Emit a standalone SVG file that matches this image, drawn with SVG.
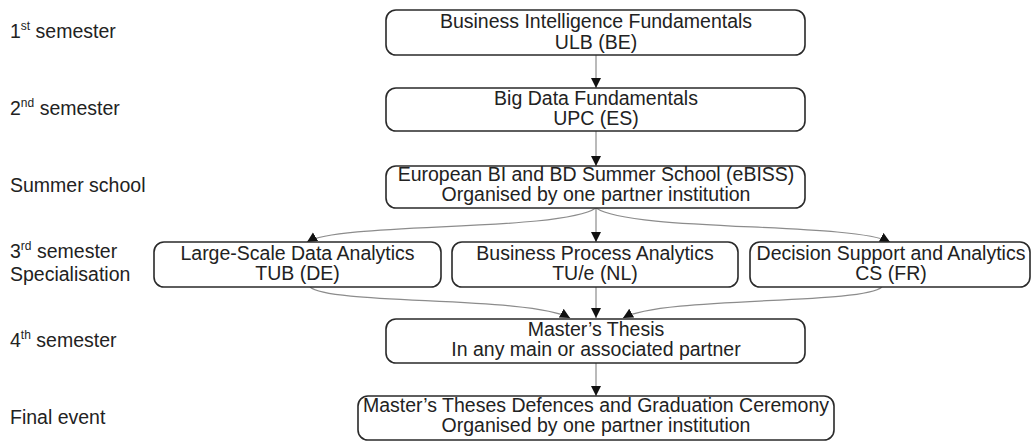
<svg xmlns="http://www.w3.org/2000/svg" width="1032" height="442" viewBox="0 0 1032 442">
<style>
text{font-family:"Liberation Sans",Arial,sans-serif;font-size:19.5px;fill:#222}
.box{fill:#fff;stroke:#2a2a2a;stroke-width:1.6}
.mid{text-anchor:middle}
.conn{fill:none;stroke:#8c8c8c;stroke-width:1.2}
.sup{font-size:12px}
</style>
<defs>
<marker id="ah" markerUnits="userSpaceOnUse" markerWidth="11" markerHeight="11" refX="10" refY="5" orient="auto">
<path d="M0,0 L10,5 L0,10 z" fill="#111"/>
</marker>
</defs>
<g id="labels">
<text x="10" y="38">1<tspan class="sup" dy="-8">st</tspan><tspan dy="8"> semester</tspan></text>
<text x="10" y="115">2<tspan class="sup" dy="-8">nd</tspan><tspan dy="8"> semester</tspan></text>
<text x="10" y="192">Summer school</text>
<text x="10" y="258">3<tspan class="sup" dy="-8">rd</tspan><tspan dy="8"> semester</tspan></text>
<text x="10" y="281">Specialisation</text>
<text x="10" y="347">4<tspan class="sup" dy="-8">th</tspan><tspan dy="8"> semester</tspan></text>
<text x="10" y="424">Final event</text>
</g>
<g id="connectors">
<path class="conn" d="M596,55 L596,88" marker-end="url(#ah)"/>
<path class="conn" d="M596,131 L596,166" marker-end="url(#ah)"/>
<path class="conn" d="M596,208 C560,232 340,222 307,242" marker-end="url(#ah)"/>
<path class="conn" d="M596,208 L596,242" marker-end="url(#ah)"/>
<path class="conn" d="M596,208 C632,232 852,222 890,242" marker-end="url(#ah)"/>
<path class="conn" d="M310,287 C330,305 530,296 570,318" marker-end="url(#ah)"/>
<path class="conn" d="M596,287 L596,318" marker-end="url(#ah)"/>
<path class="conn" d="M882,287 C862,305 662,296 623,318" marker-end="url(#ah)"/>
<path class="conn" d="M596,363 L596,396" marker-end="url(#ah)"/>
</g>
<g id="n1">
<rect class="box" x="386" y="10" width="419" height="45" rx="10"/>
<text class="mid" x="596" y="28">Business Intelligence Fundamentals</text>
<text class="mid" x="596" y="49">ULB (BE)</text>
</g>
<g id="n2">
<rect class="box" x="386" y="88" width="419" height="43" rx="10"/>
<text class="mid" x="596" y="105">Big Data Fundamentals</text>
<text class="mid" x="596" y="125">UPC (ES)</text>
</g>
<g id="n3">
<rect class="box" x="386" y="166" width="419" height="42" rx="10"/>
<text class="mid" x="596" y="181">European BI and BD Summer School (eBISS)</text>
<text class="mid" x="596" y="201">Organised by one partner institution</text>
</g>
<g id="n4">
<rect class="box" x="154" y="242" width="287" height="45" rx="10"/>
<text class="mid" x="297.5" y="260">Large-Scale Data Analytics</text>
<text class="mid" x="297.5" y="280">TUB (DE)</text>
</g>
<g id="n5">
<rect class="box" x="452" y="242" width="286" height="45" rx="10"/>
<text class="mid" x="595" y="260">Business Process Analytics</text>
<text class="mid" x="595" y="280">TU/e (NL)</text>
</g>
<g id="n6">
<rect class="box" x="750" y="242" width="280" height="45" rx="10"/>
<text class="mid" x="891" y="260">Decision Support and Analytics</text>
<text class="mid" x="891" y="280">CS (FR)</text>
</g>
<g id="n7">
<rect class="box" x="386" y="319" width="419" height="44" rx="10"/>
<text class="mid" x="596" y="336">Master’s Thesis</text>
<text class="mid" x="596" y="356">In any main or associated partner</text>
</g>
<g id="n8">
<rect class="box" x="358" y="396" width="476" height="44" rx="10"/>
<text class="mid" x="596" y="412">Master’s Theses Defences and Graduation Ceremony</text>
<text class="mid" x="596" y="432">Organised by one partner institution</text>
</g>
</svg>
